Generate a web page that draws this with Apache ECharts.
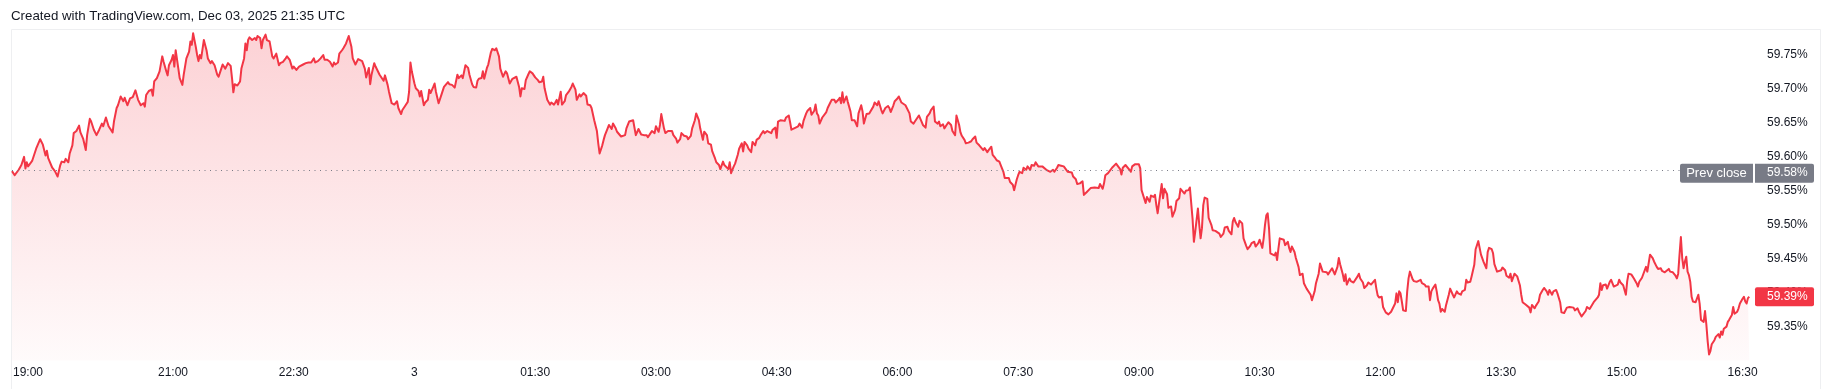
<!DOCTYPE html>
<html>
<head>
<meta charset="utf-8">
<script src="https://cdn.jsdelivr.net/npm/echarts@6/dist/echarts.min.js"></script>
<style>
html,body{margin:0;padding:0;background:#ffffff;}
#chart{width:1831px;height:389px;}
</style>
</head>
<body>
<div id="chart"></div>
<script>
const TITLE = 'Created with TradingView.com, Dec 03, 2025 21:35 UTC';

// x = minutes since 19:00 (Dec 2), y = value in %
const xTickMinutes = [0, 120, 210, 300, 390, 480, 570, 660, 750, 840, 930, 1020, 1110, 1200, 1290];
const xTickLabels = ['19:00', '21:00', '22:30', '3', '01:30', '03:00', '04:30', '06:00', '07:30', '09:00', '10:30', '12:00', '13:30', '15:00', '16:30'];
const yTicks = [59.35, 59.40, 59.45, 59.50, 59.55, 59.60, 59.65, 59.70, 59.75];
const prevClose = 59.576;

const segEvening = [
[0,59.579],[2,59.573],[5,59.581],[7,59.588],[9,59.600],[10,59.583],[11,59.592],[12,59.586],[15,59.594],[18,59.612],
[21,59.626],[23,59.618],[25,59.602],[26,59.609],[27,59.598],[30,59.584],[31,59.586],[32,59.579],[34,59.571],[36,59.588],
[37,59.593],[39,59.592],[40,59.597],[42,59.592],[43,59.605],[45,59.617],[46,59.635],[48,59.638],[50,59.646],[51,59.636],
[52,59.638],[53,59.627],[55,59.610],[56,59.632],[58,59.656],[59,59.652],[61,59.640],[63,59.632],[65,59.640],[67,59.649],
[68,59.645],[70,59.658],[72,59.645],[73,59.647],[75,59.636],[76,59.652],[78,59.672],[79,59.676],[81,59.689],[83,59.682],
[84,59.687],[85,59.685],[86,59.676],[88,59.686],[90,59.688],[92,59.698],[94,59.684],[96,59.676],[98,59.679],[99,59.674],
[100,59.691],[102,59.697],[104,59.699],[105,59.690],[106,59.711],[108,59.716],[110,59.726],[112,59.748],[113,59.740],[115,59.726],
[116,59.720],[117,59.735],[119,59.743],[120,59.750],[121,59.733],[122,59.757],[124,59.730],[125,59.716],[127,59.706],[128,59.721],
[130,59.745],[132,59.755],[133,59.770],[134,59.765],[135,59.782],[137,59.762],[138,59.750],[139,59.741],[140,59.750],[141,59.745],
[143,59.772],[145,59.757],[146,59.745],[148,59.738],[149,59.741],[151,59.735],[153,59.721],[154,59.718],[156,59.730],[157,59.736],
[159,59.730],[161,59.738],[163,59.734],[164,59.716],[165,59.695],[166,59.707],[168,59.705],[170,59.711],[171,59.730],[173,59.745],
[174,59.767],[175,59.757],[176,59.772],[177,59.776],[179,59.772],[181,59.775],[182,59.772],[183,59.778],[185,59.775],[186,59.760],
[187,59.772],[189,59.780],[190,59.772],[192,59.770],[194,59.748],[195,59.745],[197,59.752],[199,59.735],[200,59.738],[202,59.740],
[204,59.745],[205,59.748],[207,59.743],[209,59.730],[210,59.733],[212,59.728],[214,59.733],[215,59.735],[217,59.736],[219,59.738],
[221,59.739],[223,59.739],[225,59.745],[226,59.739],[228,59.741],[230,59.745],[232,59.750],[233,59.743],[235,59.743],[237,59.740],
[239,59.733],[240,59.739],[241,59.736],[243,59.739],[244,59.752],[246,59.757],[247,59.760],[249,59.767],[251,59.778],[253,59.762],
[254,59.745],[256,59.736],[258,59.744]
];

const segNight = [
[261,59.741],[263,59.730],[264,59.717],[266,59.731],[267,59.707],[268,59.721],[270,59.738],[271,59.733],[272,59.735],[274,59.721],
[276,59.715],[277,59.712],[278,59.720],[280,59.706],[281,59.696],[283,59.679],[285,59.677],[287,59.682],[288,59.672],[290,59.663],
[291,59.669],[293,59.675],[295,59.681],[296,59.696],[297,59.739],[298,59.726],[300,59.708],[301,59.701],[303,59.697],[304,59.689],
[305,59.697],[307,59.676],[308,59.680],[310,59.684],[311,59.699],[312,59.694],[314,59.703],[315,59.708],[316,59.696],[318,59.679],
[319,59.680],[320,59.691],[322,59.703],[323,59.705],[325,59.710],[326,59.707],[328,59.706],[330,59.702],[331,59.700],[332,59.721],
[333,59.716],[335,59.720],[336,59.716],[338,59.735],[340,59.731],[341,59.721],[343,59.707],[344,59.703],[346,59.702],[347,59.712],
[348,59.715],[350,59.716],[351,59.726],[352,59.715],[353,59.713],[354,59.731],[355,59.736],[357,59.754],[358,59.759],[360,59.757],
[361,59.760],[363,59.748],[364,59.730],[366,59.718],[368,59.726],[369,59.723],[371,59.708],[373,59.715],[374,59.717],[376,59.718],
[377,59.717],[378,59.703],[379,59.689],[380,59.701],[382,59.700],[383,59.713],[385,59.722],[386,59.726],[388,59.723],[390,59.717],
[392,59.713],[393,59.710],[395,59.711],[396,59.718],[397,59.701],[399,59.684],[401,59.677],[402,59.680],[404,59.677],[405,59.680],
[406,59.684],[407,59.677],[409,59.696],[410,59.677],[412,59.682],[413,59.691],[415,59.696],[417,59.703],[418,59.708],[420,59.699],
[421,59.684],[423,59.692],[424,59.689],[426,59.694],[428,59.690],[429,59.677],[431,59.676],[432,59.672],[434,59.654],[436,59.638],
[437,59.620],[438,59.605],[440,59.617],[441,59.625],[442,59.632],[444,59.642],[445,59.647],[447,59.641],[448,59.649],[450,59.642],
[451,59.637],[452,59.638],[454,59.630],[455,59.630],[457,59.632],[458,59.642],[460,59.652],[461,59.654],[463,59.654],[465,59.632],
[466,59.630],[467,59.641],[469,59.633],[471,59.632],[473,59.632],[474,59.629],[476,59.635],[477,59.638],[479,59.635],[480,59.645],
[482,59.637],[483,59.647],[484,59.663],[486,59.642],[487,59.635],[489,59.638],[490,59.636],[492,59.638],[493,59.632],[495,59.627],
[496,59.621],[498,59.626],[499,59.635],[501,59.631],[503,59.630],[504,59.626],[506,59.631],[507,59.642],[509,59.654],[510,59.664],
[512,59.654],[513,59.642],[515,59.625],[516,59.637],[518,59.632],[519,59.620],[521,59.618]
];

const segEarly = [
[522,59.608],[524,59.598],[525,59.592],[527,59.588],[528,59.582],[530,59.593],[531,59.588],[532,59.590],[534,59.582],[535,59.592],
[536,59.576],[538,59.586],[539,59.590],[541,59.603],[542,59.612],[544,59.620],[545,59.608],[546,59.622],[548,59.617],[549,59.612],
[551,59.607],[552,59.622],[554,59.617],[555,59.625],[557,59.628],[558,59.632],[560,59.638],[561,59.635],[563,59.638],[564,59.636],
[566,59.635],[567,59.640],[569,59.643],[570,59.628],[571,59.652],[573,59.654],[574,59.656],[576,59.653],[577,59.658],[579,59.661],
[580,59.651],[581,59.640],[583,59.642],[584,59.641],[586,59.645],[587,59.649],[589,59.643],[590,59.653],[592,59.664],[593,59.668],
[595,59.672],[596,59.662],[598,59.668],[599,59.677],[600,59.664],[601,59.661],[602,59.649],[604,59.658],[605,59.657],[607,59.666],
[608,59.672],[610,59.680],[611,59.684],[613,59.684],[614,59.680],[616,59.684],[617,59.687],[618,59.679],[619,59.695],[620,59.680],
[622,59.689],[623,59.681],[625,59.667],[626,59.654],[628,59.654],[629,59.652],[630,59.645],[631,59.664],[633,59.676],[634,59.667],
[635,59.649],[637,59.663],[639,59.664],[640,59.662],[642,59.674],[643,59.680],[645,59.676],[646,59.682],[648,59.669],[649,59.664],
[651,59.672],[653,59.675],[654,59.672],[655,59.666],[657,59.676],[658,59.682],[660,59.686],[661,59.689],[663,59.680],[664,59.682],
[666,59.676],[667,59.674],[669,59.664],[670,59.652],[672,59.649],[673,59.652],[675,59.658],[676,59.661],[678,59.652],[679,59.647],
[681,59.643],[682,59.659],[684,59.664],[685,59.669],[687,59.674],[688,59.652],[690,59.649],[691,59.652],[692,59.645],[694,59.648],
[695,59.642],[697,59.648],[698,59.651],[700,59.647],[701,59.638],[703,59.632],[704,59.661],[706,59.647],[707,59.636],[708,59.631],
[710,59.625],[711,59.620],[713,59.621],[715,59.623],[716,59.626],[718,59.630],[719,59.621],[721,59.617],[722,59.618],[724,59.610],
[725,59.613],[727,59.607],[728,59.610],[730,59.615],[731,59.603],[733,59.598],[734,59.595],[736,59.593],[737,59.588],[739,59.578],
[740,59.569],[741,59.567],[743,59.569],[744,59.563],[746,59.559],[747,59.551],[749,59.567],[750,59.573],[751,59.578],[753,59.576],
[754,59.584],[756,59.581],[757,59.586],[759,59.581],[760,59.588],[762,59.587],[763,59.592],[765,59.586],[766,59.588],[768,59.586],
[769,59.586],[771,59.581],[772,59.579]
];

const segMorning = [
[774,59.578],[776,59.581],[777,59.578],[779,59.584],[780,59.588],[782,59.587],[784,59.586],[785,59.584],[787,59.578],[788,59.576],
[790,59.577],[791,59.571],[793,59.567],[794,59.560],[796,59.561],[797,59.563],[798,59.564],[799,59.544],[801,59.548],[802,59.549],
[804,59.554],[805,59.556],[807,59.555],[808,59.555],[810,59.554],[811,59.560],[813,59.553],[814,59.561],[815,59.573],[817,59.576],
[818,59.574],[820,59.584],[821,59.586],[823,59.590],[824,59.589],[826,59.582],[827,59.574],[828,59.584],[830,59.588],[831,59.587],
[833,59.581],[834,59.578],[835,59.586],[837,59.589],[838,59.588],[840,59.589],[841,59.583],[842,59.551],[843,59.549],[845,59.532],
[846,59.541],[848,59.534],[849,59.543],[851,59.541],[852,59.544],[853,59.529],[854,59.517],[855,59.532],[857,59.560],[858,59.539],
[859,59.553],[860,59.551],[861,59.545],[862,59.525],[864,59.527],[865,59.512],[867,59.522],[868,59.535],[870,59.539],[871,59.553],
[872,59.554],[874,59.546],[875,59.550],[877,59.551],[878,59.555],[879,59.556],[880,59.509],[881,59.475],[882,59.490],[884,59.524],
[885,59.500],[886,59.480],[887,59.495],[888,59.529],[889,59.540],[891,59.538],[892,59.510],[894,59.500],[895,59.492],[897,59.491],
[898,59.490],[900,59.487],[901,59.482],[903,59.487],[904,59.496],[906,59.497],[907,59.491],[909,59.486],[910,59.505],[911,59.510],
[912,59.504],[914,59.497],[915,59.506],[917,59.502],[918,59.480],[920,59.469],[921,59.464],[923,59.469],[924,59.473],[926,59.475],
[927,59.468],[929,59.473],[930,59.478],[932,59.466],[933,59.480],[934,59.500],[935,59.514],[936,59.517],[937,59.495],[938,59.458],
[939,59.460],[941,59.455],[942,59.459],[943,59.448],[944,59.465],[945,59.480],[946,59.481],[948,59.478],[949,59.470],[951,59.475],
[952,59.466],[953,59.460],[954,59.468],[956,59.460],[957,59.451],[959,59.438],[960,59.426],[962,59.428],[963,59.414],[965,59.406],
[966,59.404],[968,59.397],[969,59.389],[971,59.402],[972,59.414],[974,59.428],[975,59.443],[977,59.431],[978,59.433],[980,59.430],
[981,59.427],[983,59.433],[984,59.436],[986,59.427],[987,59.425],[988,59.438],[989,59.451],[990,59.442],[992,59.427],[993,59.417],
[994,59.427],[995,59.412],[997,59.421],[998,59.417],[1000,59.415],[1001,59.414],[1003,59.424],[1004,59.428],[1005,59.421],[1007,59.415],
[1008,59.407],[1010,59.411],[1011,59.415],[1013,59.412],[1014,59.414],[1016,59.419],[1017,59.406],[1018,59.396],[1019,59.393],[1021,59.394],
[1022,59.379],[1024,59.371],[1025,59.373],[1026,59.368],[1028,59.372],[1029,59.374],[1031,59.384],[1032,59.399],[1033,59.386],[1034,59.402],
[1035,59.399],[1036,59.387],[1037,59.374],[1039,59.373],[1040,59.402],[1041,59.421],[1042,59.431]
];

const segAfternoon = [
[1044,59.420],[1045,59.417],[1047,59.416],[1048,59.415],[1050,59.419],[1051,59.414],[1053,59.412],[1054,59.409],[1056,59.409],[1057,59.389],
[1058,59.402],[1059,59.406],[1061,59.412],[1062,59.402],[1063,59.389],[1064,59.384],[1065,59.372],[1066,59.376],[1068,59.372],[1069,59.382],
[1071,59.397],[1072,59.406],[1074,59.397],[1075,59.393],[1077,59.402],[1078,59.399],[1080,59.397],[1081,59.402],[1083,59.404],[1084,59.419],
[1085,59.415],[1087,59.416],[1088,59.424],[1090,59.441],[1091,59.464],[1093,59.476],[1094,59.478],[1095,59.456],[1097,59.445],[1098,59.443],
[1099,59.436],[1100,59.460],[1101,59.466],[1103,59.464],[1104,59.458],[1105,59.442],[1107,59.431],[1108,59.432],[1110,59.433],[1111,59.437],
[1113,59.433],[1114,59.425],[1116,59.422],[1117,59.428],[1118,59.417],[1120,59.428],[1121,59.426],[1122,59.424],[1124,59.411],[1125,59.397],
[1126,59.386],[1128,59.383],[1129,59.384],[1131,59.378],[1132,59.371],[1133,59.382],[1135,59.377],[1136,59.381],[1138,59.387],[1139,59.397],
[1141,59.404],[1142,59.407],[1144,59.402],[1145,59.397],[1146,59.404],[1148,59.397],[1149,59.402],[1151,59.404],[1152,59.399],[1154,59.386],
[1155,59.371],[1157,59.370],[1158,59.371],[1159,59.378],[1161,59.379],[1162,59.379],[1164,59.378],[1165,59.374],[1167,59.377],[1168,59.372],
[1170,59.365],[1171,59.367],[1173,59.373],[1174,59.379],[1176,59.376],[1177,59.378],[1179,59.386],[1180,59.388],[1182,59.393],[1183,59.397],
[1184,59.414],[1185,59.404],[1186,59.411],[1188,59.412],[1189,59.406],[1191,59.416],[1192,59.419],[1194,59.409],[1195,59.410],[1197,59.412],
[1198,59.419],[1199,59.415],[1201,59.411],[1202,59.412],[1203,59.397],[1204,59.417],[1205,59.428],[1207,59.427],[1208,59.424],[1209,59.421],
[1211,59.414],[1212,59.409],[1213,59.416],[1215,59.422],[1216,59.424],[1218,59.438],[1219,59.431],[1220,59.432],[1221,59.456],[1223,59.451],
[1224,59.446],[1226,59.438],[1227,59.435],[1229,59.436],[1230,59.432],[1232,59.430],[1233,59.432],[1235,59.435],[1236,59.431],[1238,59.430],
[1239,59.428],[1240,59.425],[1241,59.421],[1242,59.428],[1243,59.456],[1244,59.482],[1245,59.451],[1246,59.436],[1247,59.446],[1248,59.453],
[1249,59.431],[1250,59.426],[1251,59.416],[1252,59.394],[1253,59.387],[1255,59.386],[1256,59.388],[1257,59.397],[1258,59.384],[1259,59.360],
[1261,59.357],[1262,59.373],[1263,59.353],[1264,59.328],[1265,59.309],[1266,59.314],[1267,59.324],[1269,59.330],[1270,59.335],[1272,59.339],
[1273,59.334],[1274,59.343],[1275,59.338],[1276,59.347],[1278,59.350],[1279,59.357],[1280,59.360],[1282,59.367],[1283,59.379],[1284,59.369],
[1286,59.372],[1287,59.377],[1288,59.384],[1290,59.391],[1291,59.394],[1292,59.387],[1293,59.384],[1294,59.392],[1295,59.394]
];

const points = [].concat(segEvening, segNight, segEarly, segMorning, segAfternoon);
const lastValue = points[points.length - 1][1];

const FONT = '"Liberation Sans", Arial, sans-serif';
const TEXT = '#131722';
const RED = '#f23645';
const GREY = '#787b86';

const chart = echarts.init(document.getElementById('chart'), null, {renderer: 'canvas'});

chart.setOption({
  animation: false,
  backgroundColor: '#ffffff',
  textStyle: {fontFamily: FONT},
  title: {
    text: TITLE,
    left: 11, top: 10, padding: 0,
    textStyle: {fontSize: 13.3, fontWeight: 'normal', color: TEXT, fontFamily: FONT}
  },
  grid: {left: 12, right: 75, top: 21.05, bottom: 28.4, containLabel: false, outerBoundsMode: 'none'},
  xAxis: {
    type: 'value', min: 0, max: 1300,
    axisLine: {show: false}, axisTick: {show: false}, splitLine: {show: false},
    axisLabel: {
      customValues: xTickMinutes,
      margin: 6, fontSize: 12, color: TEXT, fontFamily: FONT,
      formatter: function (v) {
        const i = xTickMinutes.indexOf(v);
        if (i < 0) return '';
        return i === 0 ? '{first|' + xTickLabels[i] + '}' : xTickLabels[i];
      },
      rich: {first: {padding: [0, 0, 0, 32], fontSize: 12, color: TEXT, fontFamily: FONT}}
    }
  },
  yAxis: {
    type: 'value', position: 'right', min: 59.30, max: 59.80, scale: true,
    axisLine: {show: false}, axisTick: {show: false}, splitLine: {show: false},
    axisLabel: {
      customValues: yTicks,
      margin: 11, fontSize: 12, color: TEXT, fontFamily: FONT,
      formatter: function (v) { return v.toFixed(2) + '%'; }
    }
  },
  series: [{
    type: 'line',
    data: points,
    showSymbol: false,
    symbol: 'none',
    lineStyle: {color: RED, width: 2, join: 'round'},
    areaStyle: {
      color: new echarts.graphic.LinearGradient(0, 0, 0, 1, [
        {offset: 0, color: 'rgba(242,54,69,0.32)'},
        {offset: 1, color: 'rgba(242,54,69,0.03)'}
      ])
    },
    markLine: {
      silent: true,
      symbol: ['none', 'none'],
      label: {show: false},
      lineStyle: {color: GREY, type: [1, 4.5], width: 1},
      data: [{yAxis: prevClose}]
    },
    z: 3
  }]
});

const gridRight = chart.convertToPixel({xAxisIndex: 0}, 1300);
const gridLeft = chart.convertToPixel({xAxisIndex: 0}, 0);
const yPrev = chart.convertToPixel({yAxisIndex: 0}, prevClose);
const yLast = chart.convertToPixel({yAxisIndex: 0}, lastValue);
const BOX_H = 19;

chart.setOption({
  graphic: [
    {type: 'rect', z: 0, silent: true,
     shape: {x: gridLeft - 0.5, y: 29.5, width: 1821 - gridLeft, height: 400},
     style: {fill: 'none', stroke: '#eeeff1', lineWidth: 1}},
    {type: 'rect', z: 100, silent: true,
     shape: {x: gridRight - 76, y: yPrev - BOX_H / 2, width: 73, height: BOX_H, r: [2, 0, 0, 2]},
     style: {fill: GREY}},
    {type: 'text', z: 101, silent: true, x: gridRight - 39.5, y: yPrev,
     style: {text: 'Prev close', fill: '#ffffff', font: '13px ' + FONT, align: 'center', verticalAlign: 'middle'}},
    {type: 'rect', z: 100, silent: true,
     shape: {x: gridRight - 1, y: yPrev - BOX_H / 2, width: 59, height: BOX_H, r: [0, 2, 2, 0]},
     style: {fill: GREY}},
    {type: 'text', z: 101, silent: true, x: gridRight + 11, y: yPrev,
     style: {text: prevClose.toFixed(2) + '%', fill: '#ffffff', font: '12px ' + FONT, align: 'left', verticalAlign: 'middle'}},
    {type: 'rect', z: 100, silent: true,
     shape: {x: gridRight - 1, y: yLast - BOX_H / 2, width: 59, height: BOX_H, r: 2},
     style: {fill: RED}},
    {type: 'text', z: 101, silent: true, x: gridRight + 11, y: yLast,
     style: {text: lastValue.toFixed(2) + '%', fill: '#ffffff', font: '12px ' + FONT, align: 'left', verticalAlign: 'middle'}}
  ]
});
</script>
</body>
</html>
